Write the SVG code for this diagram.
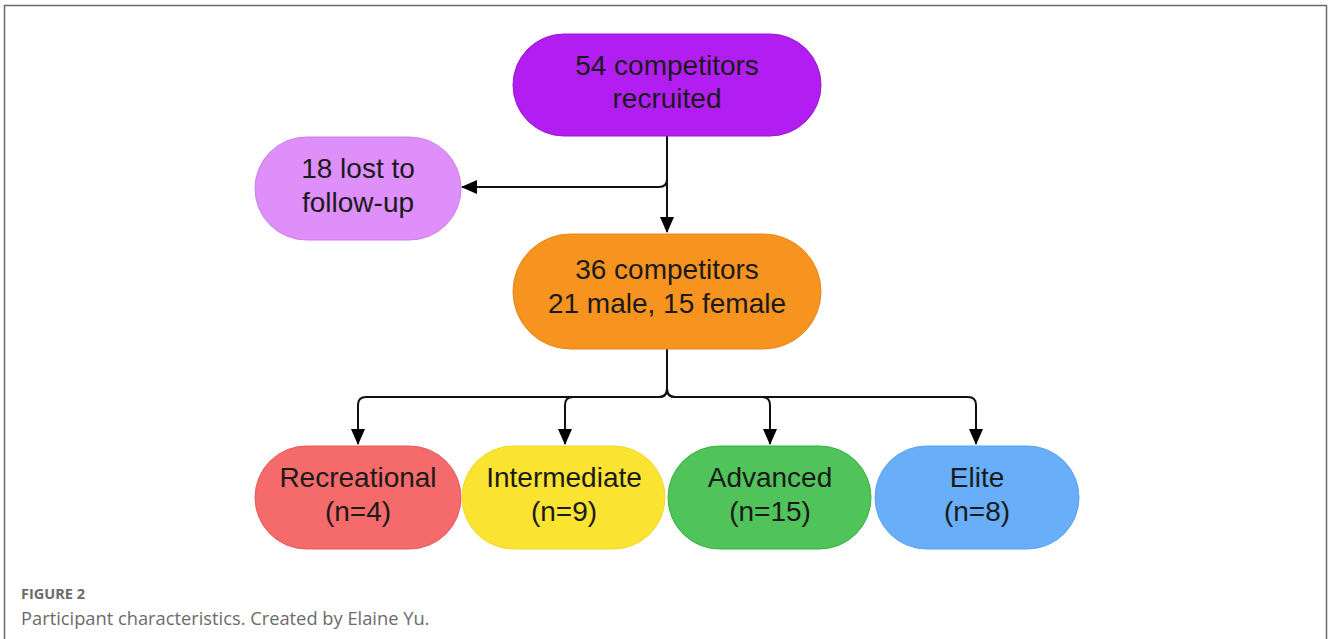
<svg xmlns="http://www.w3.org/2000/svg" width="1328" height="639" viewBox="0 0 1328 639">
<style>
.n{font-family:"Liberation Sans",Arial,sans-serif;font-size:28px;fill:#1a1a1a;text-anchor:middle}
.c{fill:none;stroke:#111;stroke-width:2}
.cap{font-family:"Open Sans","Noto Sans",sans-serif;fill:#6b6b6b}
</style>
<defs>
<marker id="ah" markerWidth="16" markerHeight="14" refX="15" refY="7" orient="auto" markerUnits="userSpaceOnUse" viewBox="0 0 16 14">
<path d="M0,0 L16,7 L0,14 Z" fill="#000"/>
</marker>
</defs>
<rect width="1328" height="639" fill="#fff"/>
<path d="M4.5,639 V5.5 H1326.5 V639" fill="none" stroke="#6a6a6a" stroke-width="1.5"/>
<g id="connectors">
<path class="c" d="M667,136 V232" marker-end="url(#ah)"/>
<path class="c" d="M667,136 V179 Q667,187 659,187 H462" marker-end="url(#ah)"/>
<path class="c" d="M667,349 V389 Q667,397 659,397 H366 Q358,397 358,405 V444" marker-end="url(#ah)"/>
<path class="c" d="M667,389 Q667,397 659,397 H573 Q565,397 565,405 V444" marker-end="url(#ah)"/>
<path class="c" d="M667,389 Q667,397 675,397 H762 Q770,397 770,405 V444" marker-end="url(#ah)"/>
<path class="c" d="M667,389 Q667,397 675,397 H968 Q976,397 976,405 V444" marker-end="url(#ah)"/>
</g>
<g id="n1"><rect x="513" y="34" width="308" height="102" rx="51" fill="#b21ef2" stroke="#9a18cf" stroke-width="1"/>
<text class="n" x="667" y="75">54 competitors</text><text class="n" x="667" y="108">recruited</text></g>
<g id="n2"><rect x="255" y="137" width="206" height="103" rx="51.5" fill="#df8ff9" stroke="#d07ee8" stroke-width="1"/>
<text class="n" x="358" y="178">18 lost to</text><text class="n" x="358" y="212">follow-up</text></g>
<g id="n3"><rect x="513" y="234" width="308" height="115" rx="57.5" fill="#f7931f" stroke="#e8851a" stroke-width="1"/>
<text class="n" x="667" y="279">36 competitors</text><text class="n" x="667" y="313">21 male, 15 female</text></g>
<g id="n4"><rect x="255" y="446" width="206" height="103" rx="51.5" fill="#f56a6b" stroke="#e85a5c" stroke-width="1"/>
<text class="n" x="358" y="487">Recreational</text><text class="n" x="358" y="521">(n=4)</text></g>
<g id="n5"><rect x="462" y="446" width="203" height="103" rx="51.5" fill="#fbe332" stroke="#f0d82a" stroke-width="1"/>
<text class="n" x="564" y="487">Intermediate</text><text class="n" x="564" y="521">(n=9)</text></g>
<g id="n6"><rect x="668" y="446" width="203" height="103" rx="51.5" fill="#50c35a" stroke="#2fb43a" stroke-width="1"/>
<text class="n" x="770" y="487">Advanced</text><text class="n" x="770" y="521">(n=15)</text></g>
<g id="n7"><rect x="875" y="446" width="204" height="103" rx="51.5" fill="#68aef9" stroke="#5aa2ef" stroke-width="1"/>
<text class="n" x="977" y="487">Elite</text><text class="n" x="977" y="521">(n=8)</text></g>
<text class="cap" x="21" y="599" font-size="14.5" font-weight="bold">FIGURE 2</text>
<text class="cap" x="21" y="625" font-size="18.3">Participant characteristics. Created by Elaine Yu.</text>
</svg>
